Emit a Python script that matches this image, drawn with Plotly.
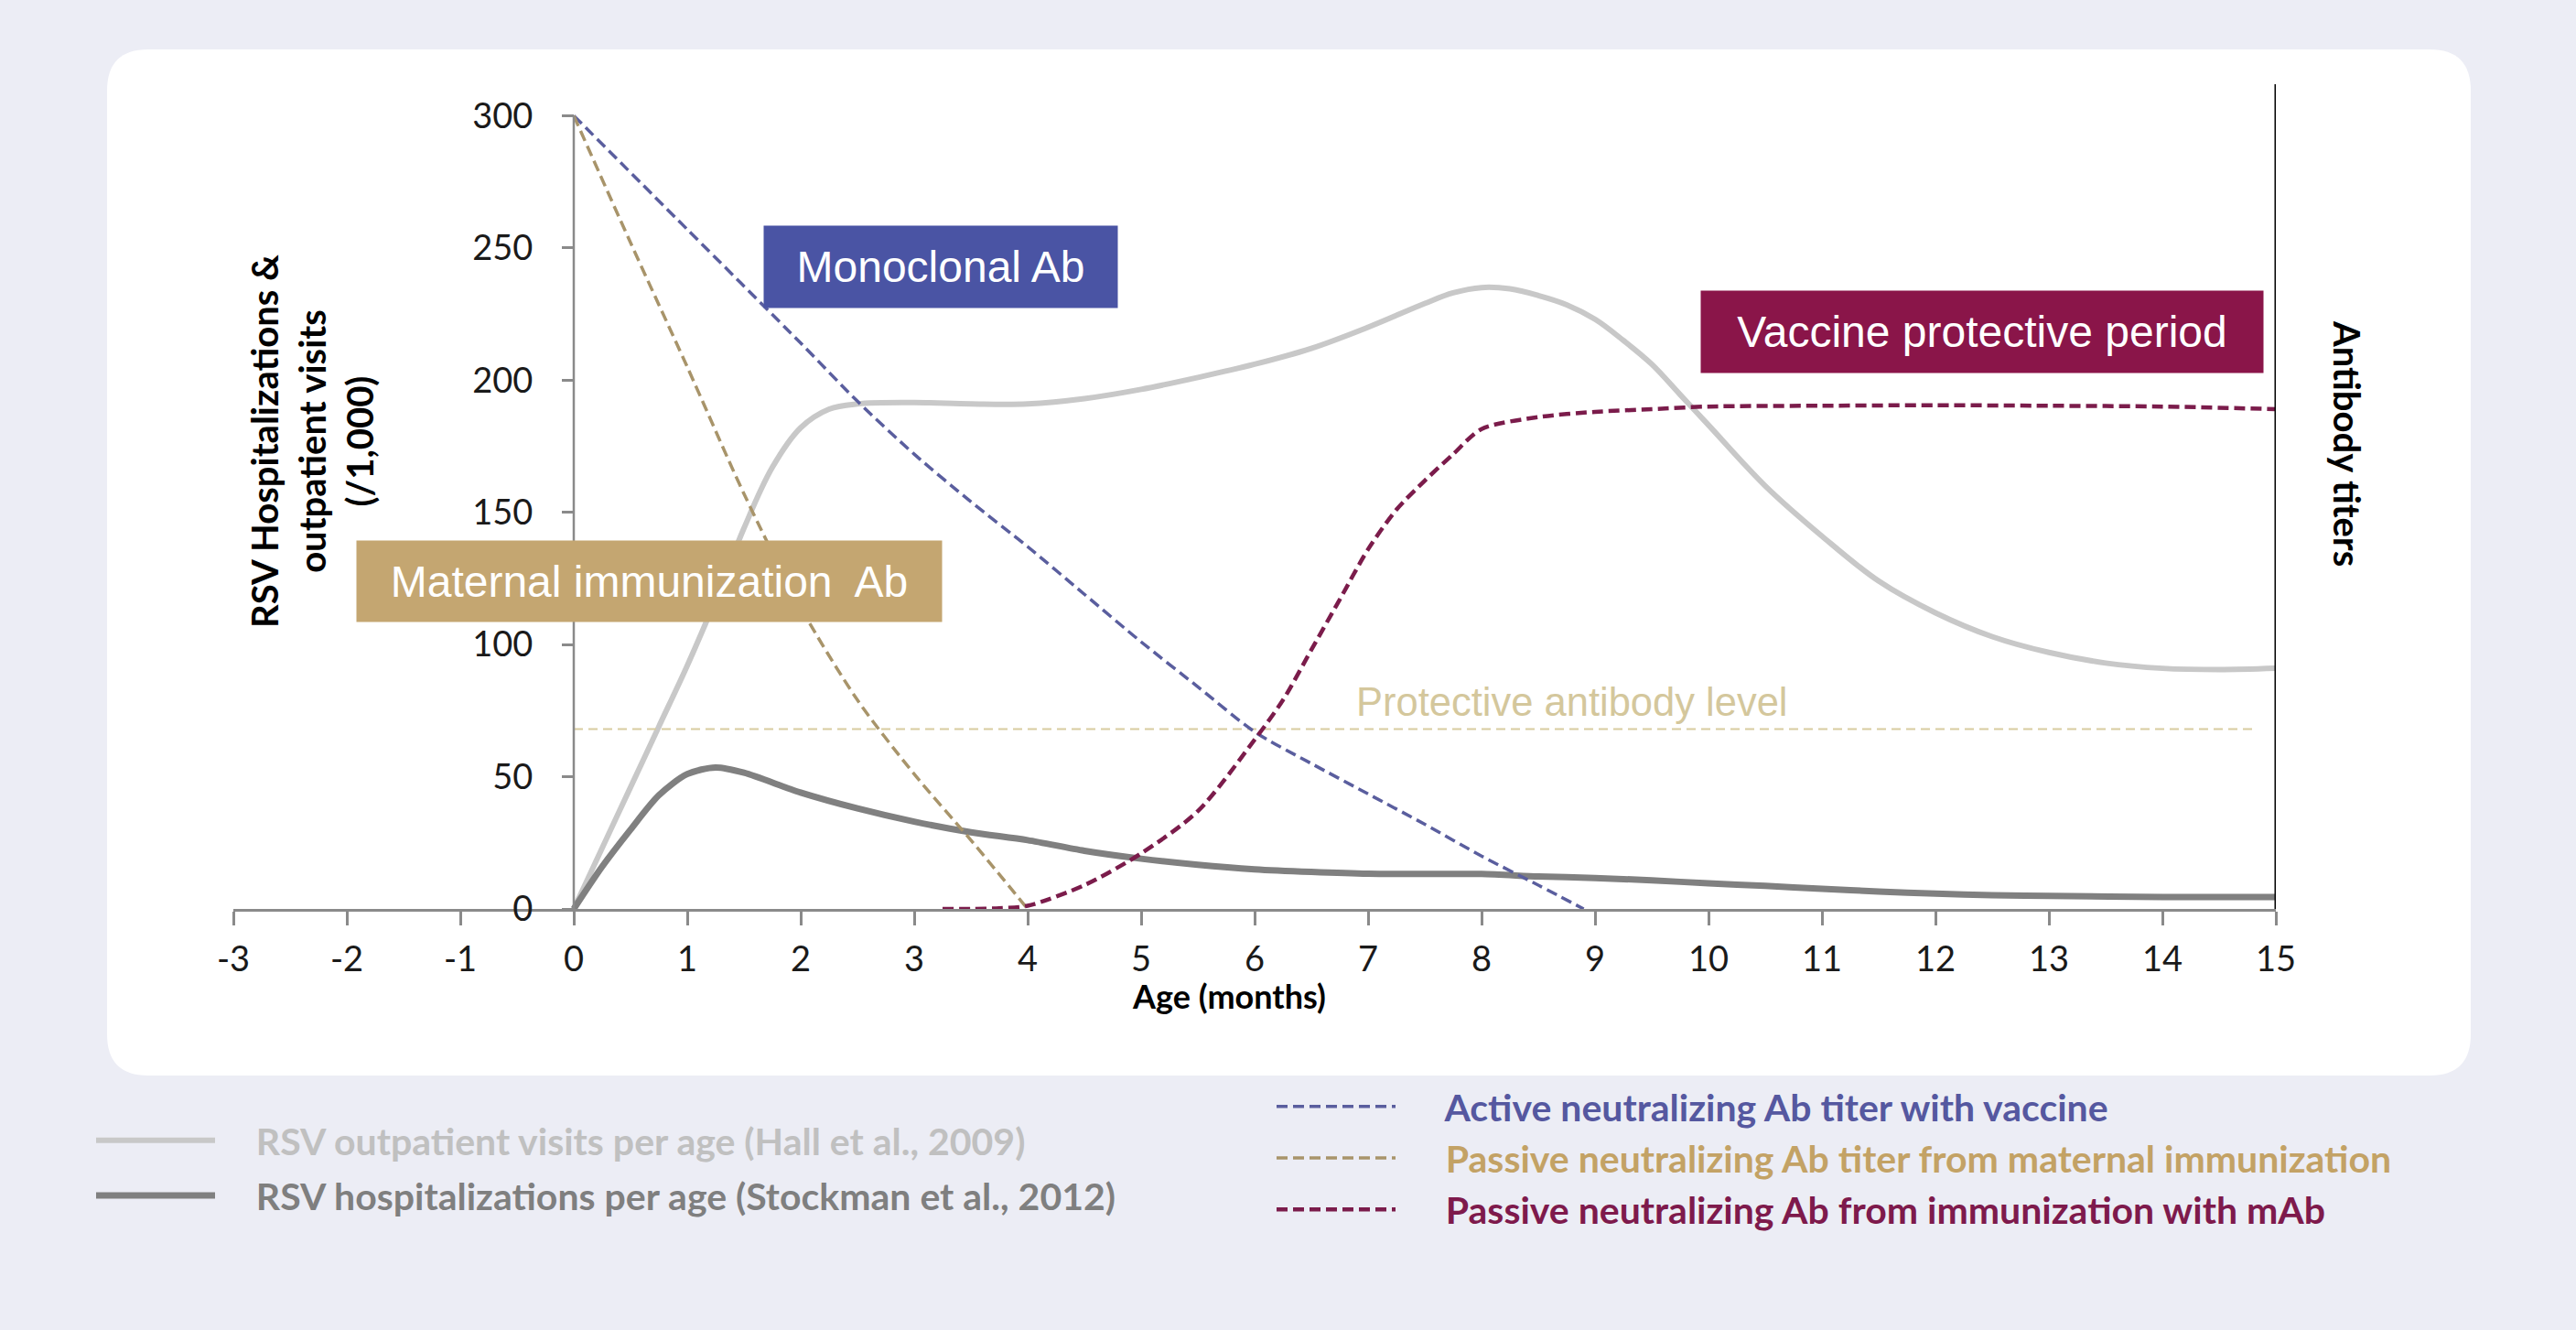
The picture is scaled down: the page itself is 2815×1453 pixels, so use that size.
import plotly.graph_objects as go

# ---------------- data ----------------
months = list(range(-3, 16))
month_labels = [str(m) for m in months]
y_ticks = [0, 50, 100, 150, 200, 250, 300]

outpatient_x = [0, 0.25, 0.5, 0.75, 1, 1.25, 1.5, 1.75, 2, 2.25, 2.5, 3, 3.5, 4, 4.5, 5, 5.5, 6,
                6.5, 7, 7.5, 7.75, 8, 8.25, 8.5, 8.75, 9, 9.25, 9.5, 9.75, 10, 10.5, 11, 11.5,
                12, 12.5, 13, 13.5, 14, 14.5, 15]
outpatient_y = [0, 23, 46, 69, 92, 117, 144, 167, 182, 189, 191, 191.5, 191, 191, 193, 196.5,
                201, 206, 212, 220, 229, 233, 235, 234.5, 232, 228.5, 223, 215, 206, 194.5, 183,
                160, 141, 124, 112, 103, 97, 93, 91, 90.5, 91]

hosp_x = [0, 0.25, 0.5, 0.75, 1, 1.25, 1.5, 2, 2.5, 3, 3.5, 4, 4.5, 5, 5.5, 6, 6.5, 7, 7.5, 8,
          8.5, 9, 9.5, 10, 10.5, 11, 11.5, 12, 12.5, 13, 14, 15]
hosp_y = [0, 16, 30, 43, 51, 53.5, 51.5, 44, 38, 33, 29, 26, 22, 19, 16.7, 15, 14, 13.3, 13.2,
          13.2, 12.3, 11.7, 10.8, 9.7, 8.7, 7.6, 6.6, 5.8, 5.2, 4.9, 4.5, 4.5]

vaccine_x = [0, 1, 2, 2.5, 3, 3.5, 4, 4.5, 5, 5.5, 6, 6.5, 7, 7.5, 8, 8.5, 8.9]
vaccine_y = [300, 257, 214, 192, 172, 154, 137, 119, 101, 84, 67, 55, 43.5, 32, 20, 9, 0]

maternal_x = [0, 0.5, 1, 1.5, 2, 2.5, 3, 3.5, 4]
maternal_y = [300, 252, 205, 157, 114, 79, 51, 26, 0]

mab_x = [3.25, 3.5, 3.75, 4, 4.5, 5, 5.5, 6, 6.25, 6.5, 6.75, 7, 7.25, 7.5, 7.75, 8, 8.5, 9,
         9.5, 10, 11, 12, 13, 14, 15]
mab_y = [0, 0, 0.3, 1.2, 9, 21, 37, 64, 79, 98, 117, 136, 151, 162, 172, 181.5, 186, 188,
         189, 190, 190.3, 190.5, 190.3, 190, 189]

protective_x = [0, 14.8]
protective_level = 68

series_names = {
    "outpatient": "RSV outpatient visits per age (Hall et al., 2009)",
    "hosp": "RSV hospitalizations per age (Stockman et al., 2012)",
    "vaccine": "Active neutralizing Ab titer with vaccine",
    "maternal": "Passive neutralizing Ab titer from maternal immunization",
    "mab": "Passive neutralizing Ab from immunization with mAb",
}

# ---------------- geometry helpers (pixels -> paper) ----------------
W, H = 2815, 1453
L, R, T, B = 255, 328, 92, 460
PW, PH = W - L - R, H - T - B
Y_MAX = 311.9


def px_x(px):
    return (px - L) / PW


def px_y(py):
    return (H - B - py) / PH


def rounded_rect(x0, y0, x1, y1, r):
    ax0, ax1 = px_x(x0), px_x(x1)
    top, bot = px_y(y0), px_y(y1)
    rx, ry = r / PW, r / PH
    return (f"M{ax0+rx},{top} L{ax1-rx},{top} Q{ax1},{top} {ax1},{top-ry} "
            f"L{ax1},{bot+ry} Q{ax1},{bot} {ax1-rx},{bot} L{ax0+rx},{bot} "
            f"Q{ax0},{bot} {ax0},{bot+ry} L{ax0},{top-ry} Q{ax0},{top} {ax0+rx},{top} Z")


C_OUT = "#C8C8C8"
C_HOSP = "#808080"
C_VAC = "#5A5E9E"
C_MAT = "#A8946A"
C_MAB = "#7B1C4B"

fig = go.Figure()


def span(txt, color, pad):
    return f"<span style='color:{color}'>{chr(160) * pad}{txt}</span>"


fig.add_trace(go.Scatter(x=outpatient_x, y=outpatient_y, mode="lines",
                         line=dict(color=C_OUT, width=6, shape="spline", smoothing=1.0),
                         name=span(series_names["outpatient"], "#C0C0C0", 4),
                         legend="legend", legendgroup="a"))
fig.add_trace(go.Scatter(x=hosp_x, y=hosp_y, mode="lines",
                         line=dict(color=C_HOSP, width=7, shape="spline", smoothing=0.8),
                         name=span(series_names["hosp"], "#7F7F7F", 4),
                         legend="legend", legendgroup="b"))
fig.add_trace(go.Scatter(x=protective_x, y=[protective_level] * len(protective_x), mode="lines",
                         line=dict(color="#D8CC9F", width=2, dash="10px,6px"),
                         showlegend=False, hoverinfo="skip"))
fig.add_trace(go.Scatter(x=vaccine_x, y=vaccine_y, mode="lines",
                         line=dict(color=C_VAC, width=3.5, dash="12px,6px", shape="spline", smoothing=0.8),
                         name=span(series_names["vaccine"], "#5558A0", 5),
                         legend="legend2", legendgroup="c"))
fig.add_trace(go.Scatter(x=maternal_x, y=maternal_y, mode="lines",
                         line=dict(color=C_MAT, width=3.5, dash="12px,6px", shape="spline", smoothing=0.8),
                         name=span(series_names["maternal"], "#C3A265", 5),
                         legend="legend2", legendgroup="d"))
fig.add_trace(go.Scatter(x=mab_x, y=mab_y, mode="lines",
                         line=dict(color=C_MAB, width=4.5, dash="12px,6px", shape="spline", smoothing=0.8),
                         name=span(series_names["mab"], "#7E1A4C", 5),
                         legend="legend2", legendgroup="e"))

shapes = [
    dict(type="path", xref="paper", yref="paper", path=rounded_rect(117, 54, 2700, 1175, 45),
         fillcolor="#FFFFFF", line=dict(width=0), layer="below"),
    # left value axis line (x = 0, from 0 to the top tick)
    dict(type="line", xref="x", yref="y", x0=0, x1=0, y0=0, y1=max(y_ticks),
         line=dict(color="#8A8A8A", width=2.5)),
    # right (antibody titers) axis line
    dict(type="line", xref="x", yref="y domain", x0=max(months), x1=max(months), y0=0, y1=1,
         line=dict(color="#000000", width=3)),
]

title_font = dict(family="Lato", size=40, color="#000000", weight="bold")
box_font = dict(family="Arial", size=48, color="#FFFFFF")


def ann(text, px, py, **kw):
    d = dict(text=text, xref="paper", yref="paper", x=px_x(px), y=px_y(py),
             xanchor="center", yanchor="middle", showarrow=False)
    d.update(kw)
    return d


annotations = [
    ann("RSV Hospitalizations &<br>outpatient visits<br>(/1,000)", 341, 482, textangle=-90,
        font=title_font, align="center"),
    ann("Antibody titers", 2565, 484, textangle=90, font=title_font),
    ann("Age (months)", 1343, 1088, font=dict(family="Lato", size=36, color="#000000", weight="bold")),
    ann("Monoclonal Ab", 1027.5, 291.5, font=box_font, bgcolor="#4A54A4", width=386, height=89,
        borderpad=0, align="center", valign="middle"),
    ann("Maternal immunization  Ab", 709.5, 635, font=box_font, bgcolor="#C4A671", width=639,
        height=88, borderpad=0, align="center", valign="middle"),
    ann("Vaccine protective period", 2166, 362, font=box_font, bgcolor="#8A1549", width=614,
        height=89, borderpad=0, align="center", valign="middle"),
    ann("Protective antibody level", 1718, 767, font=dict(family="Arial", size=43.5, color="#D4C79C")),
]

tick_font = dict(family="Lato", size=38, color="#1A1A1A")
legend_font = dict(family="Lato", size=41, weight="bold")

fig.update_layout(
    width=W, height=H,
    margin=dict(l=L, r=R, t=T, b=B, pad=0),
    paper_bgcolor="#ECEDF5",
    plot_bgcolor="rgba(0,0,0,0)",
    xaxis=dict(range=[min(months), max(months)], tickmode="array", tickvals=months,
               ticktext=month_labels, showline=True, linecolor="#8A8A8A", linewidth=2.5,
               ticks="outside", ticklen=15, tickwidth=2.5, tickcolor="#8A8A8A",
               showgrid=False, zeroline=False, tickfont=tick_font, ticklabelstandoff=5),
    yaxis=dict(range=[0, Y_MAX], anchor="free", position=(0 - min(months)) / (max(months) - min(months)),
               tickmode="array", tickvals=y_ticks, ticks="outside", ticklen=13, tickwidth=2.5,
               tickcolor="#8A8A8A", showline=False, showgrid=False, zeroline=False,
               tickfont=tick_font, ticklabelstandoff=24),
    showlegend=True,
    legend=dict(x=px_x(100), y=px_y(1276), xanchor="left", yanchor="middle",
                bgcolor="rgba(0,0,0,0)", font=legend_font, itemwidth=130, tracegroupgap=4,
                itemclick=False, itemdoubleclick=False),
    legend2=dict(x=px_x(1390), y=px_y(1265), xanchor="left", yanchor="middle",
                 bgcolor="rgba(0,0,0,0)", font=legend_font, itemwidth=130, tracegroupgap=0,
                 itemclick=False, itemdoubleclick=False),
    shapes=shapes,
    annotations=annotations,
)

fig.write_html("out.html", config={"displayModeBar": False},
               post_script="document.body.style.margin='0';document.body.style.overflow='hidden';")
